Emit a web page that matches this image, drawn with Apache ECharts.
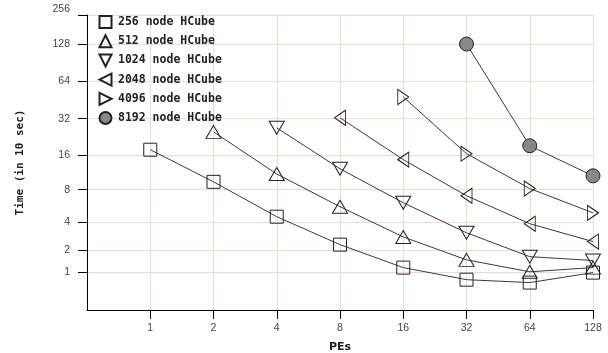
<!DOCTYPE html>
<html>
<head>
<meta charset="utf-8">
<script src="https://cdn.jsdelivr.net/npm/echarts@6/dist/echarts.min.js"></script>
<style>html,body{margin:0;padding:0;background:#fff;}#c{width:608px;height:353px;}</style>
</head>
<body>
<div id="c"></div>
<script>
// PEs (x categories on a log2 axis)
var pes = [1, 2, 4, 8, 16, 32, 64, 128];
// Y tick labels (time, in units of 10 sec)
var yTicks = [1, 2, 4, 8, 16, 32, 64, 128, 256];
var seriesNames = ['256 node HCube', '512 node HCube', '1024 node HCube', '2048 node HCube', '4096 node HCube', '8192 node HCube'];
// values aligned with pes (null = no point)
var hc256  = [17.7, 9.4, 4.5, 2.3, 1.17, 0.74, 0.65, 0.98];
var hc512  = [null, 24.9, 11.0, 5.6, 2.8, 1.5, 1.01, 1.17];
var hc1024 = [null, null, 26.9, 12.2, 6.1, 3.1, 1.65, 1.47];
var hc2048 = [null, null, null, 32.5, 14.6, 7.07, 3.84, 2.49];
var hc4096 = [null, null, null, null, 48, 16.4, 8.2, 4.9];
var hc8192 = [null, null, null, null, null, 128, 19.1, 10.6];

var allData = [hc256, hc512, hc1024, hc2048, hc4096, hc8192];
var symbols = ['rect', 'triangle', 'triangle', 'triangle', 'triangle', 'circle'];
var rotates = [0, 0, 180, 90, -90, 0];
var sizes = [[13,13],[15,13],[15,13],[15,11],[15,11],[14,14]];
var fills = ['rgba(255,255,255,0)','rgba(255,255,255,0)','rgba(255,255,255,0)','rgba(255,255,255,0)','rgba(255,255,255,0)','#888888'];

function ty(t){ return Math.log2(t + 1); }
function tx(p){ return Math.log2(p) + 1; }

var yMax = 7.776;
var yCustom = yTicks.slice(0, -1).map(ty).concat([yMax]);
var xCustom = pes.map(tx);

var gridColor = '#eedcd4';
var series = allData.map(function(arr, i){
  var d = [];
  arr.forEach(function(v, j){ if (v != null) d.push([tx(pes[j]), ty(v)]); });
  return {
    name: seriesNames[i], type: 'line', data: d,
    symbol: symbols[i], symbolRotate: rotates[i], symbolSize: sizes[i],
    showAllSymbol: true, animation: false,
    lineStyle: { color: '#3a3a3a', width: 1 },
    itemStyle: { color: fills[i], borderColor: '#222', borderWidth: 1 },
    z: 3 + i
  };
});

var chart = echarts.init(document.getElementById('c'));
chart.setOption({
  animation: false,
  grid: { left: 87, right: 15, top: 15, bottom: 43, containLabel: false, outerBoundsMode: 'none' },
  legend: {
    orient: 'vertical', left: 92, top: 10,
    itemWidth: 15, itemHeight: 15, itemGap: 5.2,
    data: seriesNames,
    lineStyle: { opacity: 0 },
    textStyle: { fontFamily: 'DejaVu Sans Mono', fontWeight: 'bold', fontSize: 11.5, color: '#222' }
  },
  xAxis: {
    type: 'value', min: 0, max: 8, interval: 1,
    name: 'PEs', nameLocation: 'middle', nameGap: 32,
    nameTextStyle: { fontFamily: 'DejaVu Sans', fontWeight: 'bold', fontSize: 11, color: '#222' },
    axisLine: { show: true, lineStyle: { color: '#000', width: 1 } },
    axisTick: { show: true, length: 9, customValues: xCustom, lineStyle: { color: '#000' } },
    axisLabel: { customValues: xCustom, margin: 13, fontFamily: 'Liberation Sans', fontSize: 10.5, color: '#444',
      formatter: function(v){ return String(Math.round(Math.pow(2, v - 1))); } },
    splitLine: { show: true, lineStyle: { color: gridColor, width: 1 } }
  },
  yAxis: {
    type: 'value', min: 0, max: yMax,
    name: 'Time (in 10 sec)', nameLocation: 'middle', nameGap: 61, nameRotate: 90,
    nameTextStyle: { fontFamily: 'DejaVu Sans Mono', fontWeight: 'bold', fontSize: 11, color: '#222' },
    axisLine: { show: true, lineStyle: { color: '#000', width: 1 } },
    axisTick: { show: true, length: 9, customValues: yCustom, lineStyle: { color: '#000' } },
    axisLabel: { customValues: yCustom, margin: 17, fontFamily: 'Liberation Sans', fontSize: 10.5, color: '#444',
      formatter: function(v){
        if (Math.abs(v - yMax) < 1e-6) return '{top|' + yTicks[yTicks.length - 1] + '}';
        return String(Math.round(Math.pow(2, v) - 1));
      },
      rich: { top: { fontFamily: 'Liberation Sans', fontSize: 10.5, color: '#444', padding: [0, 0, 12, 0] } } },
    splitLine: { show: true, lineStyle: { color: gridColor, width: 1 } }
  },
  series: series
});
</script>
</body>
</html>
